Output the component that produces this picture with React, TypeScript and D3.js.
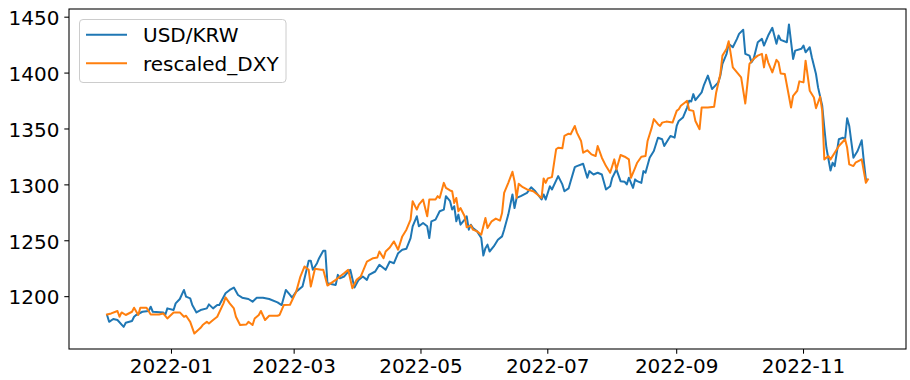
import React from "react";
import * as d3 from "d3";

// Day offsets are counted from this start date
const START_DATE = "2021-12-01";

const seriesNames = ["USD/KRW", "rescaled_DXY"];
const seriesColors = ["#1f77b4", "#ff7f0e"];

// USD/KRW: days since START_DATE and values
const krwDay = [0,1,3,5,8,9,12,13,14,17,20,21,22,27,28,29,32,33,35,37,38,40,41,43,45,48,49,51,53,54,57,59,61,63,65,68,70,72,75,78,82,84,86,88,89,91,94,95,97,98,99,101,102,104,105,106,110,111,112,114,116,117,119,121,123,125,126,129,131,134,136,138,140,142,144,146,147,149,150,152,154,155,156,158,160,162,163,165,166,167,168,169,170,172,173,174,175,176,178,180,181,182,183,184,186,188,190,191,193,195,196,197,199,202,204,206,209,210,211,213,214,217,219,220,222,223,225,226,229,231,232,234,236,238,240,242,243,245,247,249,250,251,253,254,255,257,258,259,261,263,265,267,268,270,271,273,274,275,277,279,280,281,282,283,286,287,289,290,291,294,295,296,298,299,301,303,304,306,307,309,310,311,313,315,316,318,320,322,323,324,327,328,330,331,334,335,336,338,339,341,342,344,345,346,348,349,350,352,354,355,356,357,359,361,363,364,365];
const krwVal = [1183.6,1177.5,1180.0,1179.1,1173.0,1176.6,1178.2,1182.0,1183.6,1186.5,1187.2,1191.0,1186.5,1185.9,1183.6,1189.5,1188.0,1194.0,1197.9,1206.0,1200.0,1198.5,1192.5,1185.9,1188.0,1189.5,1193.1,1189.5,1192.5,1192.5,1203.0,1206.0,1208.1,1201.5,1199.1,1197.9,1195.5,1199.1,1199.1,1197.9,1194.9,1192.5,1206.0,1201.5,1199.1,1204.5,1209.0,1216.4,1232.1,1232.1,1224.0,1229.9,1234.4,1241.1,1241.1,1212.0,1210.5,1219.5,1216.4,1218.0,1222.5,1224.0,1208.1,1215.0,1218.0,1215.0,1219.5,1222.5,1228.5,1224.0,1231.4,1229.9,1238.9,1242.0,1242.9,1252.4,1262.9,1271.9,1262.9,1265.9,1262.9,1252.4,1267.4,1268.9,1276.4,1277.9,1289.9,1285.4,1277.9,1280.9,1267.4,1273.4,1264.4,1268.9,1271.9,1259.9,1264.4,1261.4,1258.4,1252.4,1236.8,1243.4,1246.5,1240.4,1244.9,1250.9,1253.9,1259.9,1273.4,1291.4,1279.3,1288.3,1289.9,1292.8,1297.9,1294.3,1286.9,1291.4,1286.9,1298.8,1295.9,1307.8,1300.4,1294.3,1296.8,1303.3,1315.9,1316.8,1318.9,1306.3,1312.3,1309.3,1310.8,1309.3,1295.9,1298.8,1306.3,1313.8,1303.3,1302.7,1300.4,1306.3,1297.3,1304.9,1303.3,1301.8,1312.3,1310.8,1324.3,1330.3,1342.2,1340.8,1334.8,1340.8,1343.8,1342.2,1352.7,1357.2,1360.2,1369.2,1375.2,1374.6,1381.2,1375.8,1382.7,1388.7,1397.7,1391.7,1385.7,1391.7,1397.7,1408.2,1417.2,1426.2,1423.1,1430.6,1435.1,1438.7,1417.2,1415.6,1409.6,1412.7,1427.6,1430.6,1424.6,1433.6,1440.5,1426.2,1433.6,1429.7,1427.6,1443.5,1412.7,1420.1,1421.7,1424.6,1418.6,1423.1,1414.1,1399.2,1387.2,1370.7,1351.2,1333.2,1312.9,1319.8,1316.8,1340.8,1342.2,1340.8,1359.7,1352.7,1324.3,1330.3,1339.9,1321.3,1304.9];

// rescaled DXY: days since START_DATE and values
const dxyDay = [0,2,5,6,7,9,12,13,15,16,19,21,25,27,29,32,35,37,38,40,42,45,46,48,49,51,53,56,57,59,61,62,64,67,68,70,71,73,74,76,78,82,83,85,88,91,93,95,97,98,100,103,104,106,110,112,114,116,118,120,122,125,128,130,131,133,134,136,138,140,142,144,146,147,149,150,152,154,155,158,159,160,162,163,165,166,167,168,169,170,172,173,175,176,178,180,182,183,185,187,189,190,191,193,195,196,197,198,200,202,205,207,209,210,211,212,214,216,217,219,220,222,223,225,226,228,229,231,233,235,236,238,240,242,244,245,247,249,251,252,254,255,257,259,260,262,263,265,266,267,269,272,274,275,276,278,279,280,282,283,285,286,289,292,293,295,296,298,299,300,301,303,305,307,308,309,311,313,315,316,317,318,320,322,323,324,326,329,330,332,333,335,336,338,340,341,343,344,345,347,348,350,352,355,356,357,359,360,363,365,366];
const dxyVal = [1184.1,1185.0,1187.2,1182.0,1185.9,1183.6,1186.5,1190.1,1183.6,1190.1,1190.1,1184.1,1184.1,1185.0,1180.5,1185.9,1185.9,1182.0,1182.9,1177.5,1167.0,1172.1,1174.6,1177.5,1176.0,1179.1,1182.0,1194.0,1199.4,1194.0,1189.5,1182.0,1174.6,1175.1,1177.5,1174.6,1180.5,1183.6,1187.2,1179.1,1182.9,1182.9,1183.6,1192.5,1192.8,1204.5,1218.0,1227.0,1224.0,1209.0,1224.9,1224.0,1224.0,1209.9,1215.0,1218.0,1220.9,1224.0,1207.5,1215.0,1218.0,1231.4,1234.4,1235.0,1240.4,1234.4,1240.4,1244.0,1249.4,1242.0,1253.9,1259.9,1268.9,1285.4,1277.9,1282.4,1286.9,1271.9,1286.9,1286.9,1289.9,1288.3,1301.8,1297.3,1295.0,1294.3,1283.8,1288.3,1276.4,1279.3,1271.9,1262.0,1263.8,1259.9,1258.4,1255.4,1270.4,1261.4,1267.4,1269.8,1268.0,1274.8,1292.8,1301.8,1311.7,1303.3,1288.3,1300.9,1297.9,1295.9,1294.3,1291.4,1288.3,1305.8,1301.8,1305.8,1306.9,1331.8,1333.2,1332.7,1343.8,1345.8,1345.3,1352.7,1346.7,1339.3,1328.8,1330.9,1327.3,1325.8,1334.8,1324.3,1316.8,1310.8,1322.8,1313.8,1326.7,1325.2,1322.8,1306.3,1315.3,1319.8,1325.2,1325.8,1339.3,1351.2,1358.8,1354.3,1352.7,1355.7,1356.6,1355.7,1366.2,1367.7,1370.7,1373.7,1375.2,1366.9,1366.2,1357.2,1349.8,1369.2,1369.2,1369.8,1382.7,1399.2,1415.6,1421.7,1428.5,1417.2,1405.1,1400.6,1396.1,1372.8,1390.2,1408.2,1412.7,1415.6,1417.2,1405.1,1416.5,1409.6,1400.6,1411.8,1409.6,1399.7,1399.2,1369.2,1379.7,1384.2,1392.6,1391.7,1411.1,1384.2,1378.2,1368.6,1378.8,1366.2,1322.8,1325.8,1322.8,1328.8,1334.8,1340.8,1333.2,1318.3,1316.8,1319.8,1322.8,1301.8,1304.9];

const yTicks = [1200, 1250, 1300, 1350, 1400, 1450];
const xTickLabels = ["2022-01", "2022-03", "2022-05", "2022-07", "2022-09", "2022-11"];

type Pt = { date: Date; value: number };

const parse = d3.timeParse("%Y-%m-%d");
const parseMonth = d3.timeParse("%Y-%m");

function build(days: number[], vals: number[]): Pt[] {
  const start = parse(START_DATE) as Date;
  const n = Math.min(days.length, vals.length);
  const out: Pt[] = [];
  for (let i = 0; i < n; i++) out.push({ date: d3.timeDay.offset(start, days[i]), value: vals[i] });
  return out;
}

export default function App() {
  const W = 910, H = 380;
  const left = 69, right = 906, top = 9, bottom = 349;
  const series = [build(krwDay, krwVal), build(dxyDay, dxyVal)];
  const all = series.flat();

  const [t0, t1] = d3.extent(all, (d) => d.date.getTime()) as [number, number];
  const tp = (t1 - t0) * 0.05;
  const x = d3.scaleTime().domain([new Date(t0 - tp), new Date(t1 + tp)]).range([left, right]);
  const [v0, v1] = d3.extent(all, (d) => d.value) as [number, number];
  const vp = (v1 - v0) * 0.05;
  const y = d3.scaleLinear().domain([v0 - vp, v1 + vp]).range([bottom, top]);

  const line = d3.line<Pt>().x((d) => x(d.date)).y((d) => y(d.value));
  const font = "'DejaVu Sans', sans-serif";
  const fs = 20;

  return (
    <svg width={W} height={H} style={{ position: "absolute", left: 0, top: 0, background: "#fff" }} fontFamily={font}>
      <rect x={0} y={0} width={W} height={H} fill="#fff" />
      <defs>
        <clipPath id="plot">
          <rect x={left} y={top} width={right - left} height={bottom - top} />
        </clipPath>
      </defs>
      <g clipPath="url(#plot)">
        {series.map((s, i) => (
          <path key={i} d={line(s) || ""} fill="none" stroke={seriesColors[i]} strokeWidth={2} strokeLinejoin="round" strokeLinecap="square" />
        ))}
      </g>
      <rect x={left} y={top} width={right - left} height={bottom - top} fill="none" stroke="#000" strokeWidth={1.07} />
      {yTicks.map((t) => (
        <g key={t}>
          <line x1={left - 4.7} x2={left} y1={y(t)} y2={y(t)} stroke="#000" strokeWidth={1.07} />
          <text x={left - 9.5} y={y(t) + 7.8} textAnchor="end" fontSize={fs} fill="#000">{t}</text>
        </g>
      ))}
      {xTickLabels.map((lab) => {
        const xx = x(parseMonth(lab) as Date);
        return (
          <g key={lab}>
            <line x1={xx} x2={xx} y1={bottom} y2={bottom + 4.7} stroke="#000" strokeWidth={1.07} />
            <text x={xx} y={bottom + 23.5} textAnchor="middle" fontSize={fs} fill="#000">{lab}</text>
          </g>
        );
      })}
      <g>
        <rect x={79.5} y={19.5} width={206.5} height={63} rx={3.5} fill="#fff" fillOpacity={0.8} stroke="#cccccc" strokeWidth={1} />
        {seriesNames.map((name, i) => (
          <g key={name}>
            <line x1={86} x2={127} y1={34.7 + i * 28.6} y2={34.7 + i * 28.6} stroke={seriesColors[i]} strokeWidth={2} />
            <text x={143} y={42 + i * 28.6} fontSize={fs} fill="#000">{name}</text>
          </g>
        ))}
      </g>
    </svg>
  );
}
